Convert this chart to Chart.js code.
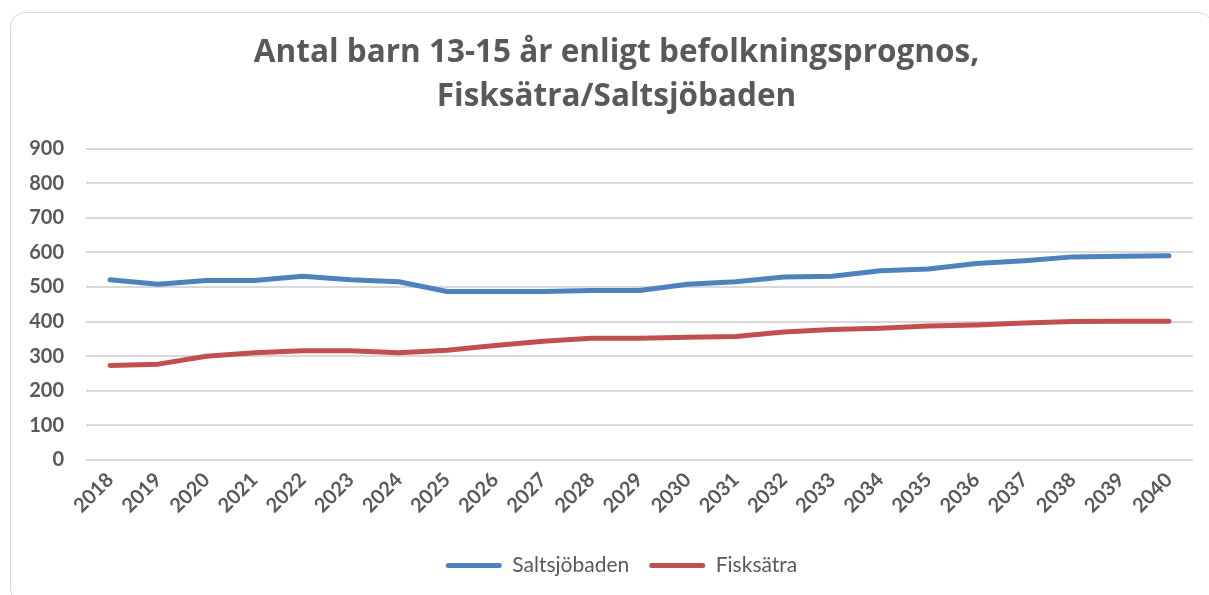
<!DOCTYPE html>
<html>
<head>
<meta charset="utf-8">
<script src="https://cdn.jsdelivr.net/npm/chart.js@4.4.1/dist/chart.umd.min.js"></script>
<style>
  html, body { margin: 0; padding: 0; background: #ffffff; overflow: hidden; width: 1209px; height: 595px; }
  #card { position: absolute; left: 10px; top: 12px; width: 1203px; height: 592px; border: 1.5px solid #d9d9d9; border-radius: 15px; box-sizing: border-box; }
  #wrap { position: absolute; left: 0; top: 0; width: 1209px; height: 595px; }
</style>
</head>
<body>
<div id="card"></div>
<div id="wrap"><canvas id="c" width="1209" height="595"></canvas></div>
<script>
const categories = ['2018','2019','2020','2021','2022','2023','2024','2025','2026','2027','2028','2029','2030','2031','2032','2033','2034','2035','2036','2037','2038','2039','2040'];
const saltsjobaden = [521, 508, 519, 519, 531, 521, 515, 487, 487, 487, 490, 490, 508, 515, 529, 531, 547, 552, 568, 576, 587, 589, 590];
const fisksatra = [273, 277, 300, 310, 316, 316, 310, 317, 331, 343, 352, 352, 355, 357, 370, 377, 381, 387, 390, 396, 400, 401, 401];
const titleLines = ['Antal barn 13-15 år enligt befolkningsprognos,', 'Fisksätra/Saltsjöbaden'];
const seriesNames = ['Saltsjöbaden', 'Fisksätra'];
const yTicks = [0, 100, 200, 300, 400, 500, 600, 700, 800, 900];

const FONT = 'Lato';
const GREY = '#595959';

const shiftPlugin = {
  id: 'shift',
  afterLayout(chart) {
    if (chart.legend) { chart.legend.left += 15; chart.legend.right += 15; }
    if (chart.titleBlock) { chart.titleBlock.left += 10; chart.titleBlock.right += 10; }
  }
};

new Chart(document.getElementById('c'), {
  type: 'line',
  data: {
    labels: categories,
    datasets: [
      { label: seriesNames[0], data: saltsjobaden, borderColor: '#4f81bd', backgroundColor: '#4f81bd', borderWidth: 5, pointRadius: 0, tension: 0, borderCapStyle: 'round', borderJoinStyle: 'round' },
      { label: seriesNames[1], data: fisksatra, borderColor: '#c0504d', backgroundColor: '#c0504d', borderWidth: 5, pointRadius: 0, tension: 0, borderCapStyle: 'round', borderJoinStyle: 'round' }
    ]
  },
  plugins: [shiftPlugin],
  options: {
    responsive: false,
    animation: false,
    layout: { padding: { left: 20, right: 16, top: 10, bottom: 9 } },
    plugins: {
      tooltip: { enabled: false },
      title: {
        display: true,
        text: titleLines,
        color: GREY,
        font: { family: 'Open Sans', size: 31.5, weight: 'bold', lineHeight: 1.39 },
        padding: { top: 21, bottom: 30 }
      },
      legend: {
        position: 'bottom',
        labels: {
          color: GREY,
          font: { family: FONT, size: 21 },
          boxWidth: 56,
          boxHeight: 5,
          padding: 20,
          generateLabels: (chart) => chart.data.datasets.map((ds, i) => ({
            text: ds.label, fillStyle: ds.borderColor, strokeStyle: ds.borderColor, lineWidth: 0,
            borderRadius: 2.5, fontColor: GREY, datasetIndex: i, hidden: false
          }))
        }
      }
    },
    scales: {
      x: {
        offset: true,
        grid: { display: false, drawTicks: false },
        border: { display: false },
        ticks: { color: GREY, font: { family: FONT, size: 20, weight: 'bold' }, minRotation: 45, maxRotation: 45, autoSkip: false, padding: 8 },
        afterFit: (s) => { s.height = 75; }
      },
      y: {
        min: 0, max: 900,
        afterBuildTicks: (s) => { s.ticks = yTicks.map(v => ({ value: v })); },
        grid: { color: '#d9d9d9', lineWidth: 2, drawTicks: false },
        border: { display: false },
        ticks: { color: GREY, font: { family: FONT, size: 20, weight: 'bold' }, padding: 22 },
        afterFit: (s) => { s.width = 66; }
      }
    }
  }
});
</script>
</body>
</html>
